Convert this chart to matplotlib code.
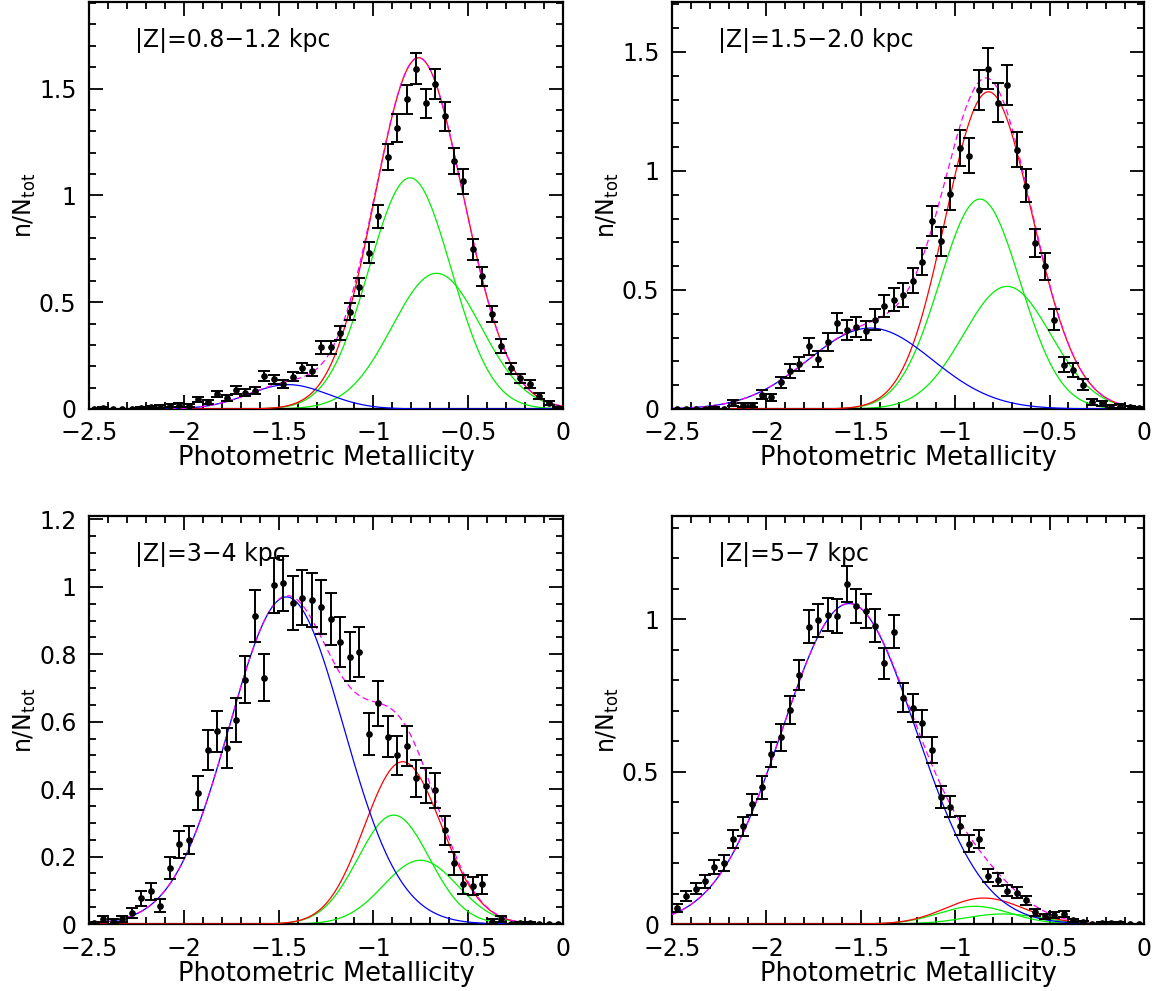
import numpy as np
import matplotlib
matplotlib.use("Agg")
import matplotlib.pyplot as plt
from matplotlib.ticker import MultipleLocator, FuncFormatter

plt.rcParams['font.family'] = ['DejaVu Sans']
plt.rcParams['mathtext.fontset'] = 'dejavusans'

# bin centres of the metallicity histogram
feh = np.round(np.arange(-2.475, 0.0, 0.05), 3)

# panel 1 : |Z| = 0.8-1.2 kpc
y1 = [0.0, 0.005, 0.0, 0.0, 0.0, 0.005, 0.008, 0.011, 0.014, 0.019,
      0.016, 0.045, 0.031, 0.069, 0.052, 0.089, 0.077, 0.086, 0.156, 0.14,
      0.117, 0.151, 0.192, 0.18, 0.289, 0.289, 0.356, 0.456, 0.57, 0.731,
      0.901, 1.179, 1.315, 1.449, 1.593, 1.432, 1.522, 1.369, 1.16, 1.065,
      0.748, 0.621, 0.445, 0.295, 0.19, 0.144, 0.117, 0.061, 0.027, 0.005]
e1 = [0.0, 0.004, 0.0, 0.0, 0.0, 0.004, 0.005, 0.006, 0.007, 0.008,
      0.007, 0.012, 0.010, 0.015, 0.013, 0.017, 0.016, 0.017, 0.023, 0.021,
      0.020, 0.022, 0.025, 0.024, 0.031, 0.031, 0.034, 0.038, 0.043, 0.049,
      0.054, 0.062, 0.065, 0.069, 0.072, 0.068, 0.070, 0.067, 0.061, 0.059,
      0.049, 0.045, 0.038, 0.031, 0.025, 0.022, 0.020, 0.014, 0.009, 0.004]

# panel 2 : |Z| = 1.5-2.0 kpc
y2 = [0.0, 0.0, 0.0, 0.0, 0.004, 0.0, 0.025, 0.017, 0.017, 0.06,
      0.049, 0.112, 0.158, 0.189, 0.263, 0.21, 0.28, 0.361, 0.332, 0.343,
      0.329, 0.375, 0.434, 0.459, 0.48, 0.539, 0.619, 0.789, 0.704, 0.903,
      1.097, 1.064, 1.34, 1.429, 1.287, 1.361, 1.09, 0.938, 0.697, 0.599,
      0.375, 0.186, 0.164, 0.102, 0.031, 0.024, 0.01, 0.014, 0.007, 0.004]
e2 = [0.0, 0.0, 0.0, 0.0, 0.005, 0.0, 0.011, 0.009, 0.009, 0.018,
      0.016, 0.024, 0.029, 0.031, 0.037, 0.033, 0.038, 0.043, 0.041, 0.042,
      0.041, 0.044, 0.047, 0.049, 0.050, 0.053, 0.057, 0.064, 0.060, 0.068,
      0.075, 0.074, 0.083, 0.086, 0.082, 0.084, 0.075, 0.070, 0.060, 0.056,
      0.044, 0.031, 0.029, 0.023, 0.013, 0.011, 0.007, 0.009, 0.006, 0.005]

# panel 3 : |Z| = 3-4 kpc
y3 = [0.003, 0.015, 0.007, 0.015, 0.033, 0.076, 0.097, 0.054, 0.166, 0.236,
      0.25, 0.389, 0.515, 0.571, 0.521, 0.605, 0.724, 0.913, 0.731, 1.004,
      1.01, 0.953, 0.968, 0.96, 0.941, 0.905, 0.836, 0.793, 0.807, 0.564,
      0.654, 0.556, 0.5, 0.528, 0.432, 0.41, 0.396, 0.278, 0.18, 0.118,
      0.112, 0.118, 0.007, 0.015, 0.0, 0.003, 0.003, 0.0, 0.0, 0.0]
e3 = [0.004, 0.010, 0.007, 0.010, 0.015, 0.023, 0.026, 0.019, 0.033, 0.040,
      0.041, 0.051, 0.059, 0.062, 0.059, 0.064, 0.070, 0.078, 0.070, 0.082,
      0.082, 0.080, 0.081, 0.080, 0.080, 0.078, 0.075, 0.073, 0.074, 0.062,
      0.066, 0.061, 0.058, 0.060, 0.054, 0.052, 0.052, 0.043, 0.035, 0.028,
      0.027, 0.028, 0.007, 0.010, 0.0, 0.004, 0.004, 0.0, 0.0, 0.0]

# panel 4 : |Z| = 5-7 kpc
y4 = [0.052, 0.091, 0.116, 0.14, 0.187, 0.2, 0.278, 0.32, 0.393, 0.448,
      0.557, 0.612, 0.701, 0.817, 0.975, 0.996, 1.015, 1.01, 1.115, 1.044,
      1.026, 0.978, 0.855, 0.959, 0.742, 0.707, 0.658, 0.571, 0.416, 0.385,
      0.322, 0.263, 0.278, 0.159, 0.145, 0.109, 0.102, 0.078, 0.038, 0.025,
      0.029, 0.033, 0.012, 0.005, 0.0, 0.003, 0.003, 0.003, 0.0, 0.0]
e4 = [0.013, 0.017, 0.019, 0.021, 0.024, 0.025, 0.029, 0.031, 0.034, 0.037,
      0.041, 0.043, 0.046, 0.050, 0.054, 0.055, 0.055, 0.055, 0.058, 0.056,
      0.056, 0.054, 0.051, 0.054, 0.047, 0.046, 0.045, 0.042, 0.035, 0.034,
      0.031, 0.028, 0.029, 0.022, 0.021, 0.018, 0.018, 0.015, 0.011, 0.009,
      0.009, 0.010, 0.006, 0.004, 0.0, 0.003, 0.003, 0.003, 0.0, 0.0]

# gaussian fit components (amplitude, mean, sigma)
halo = [(0.114, -1.45, 0.21), (0.34, -1.45, 0.33),
        (0.97, -1.459, 0.30), (1.051, -1.562, 0.354)]
thick1 = [(1.082, -0.807, 0.217), (0.882, -0.869, 0.213),
          (0.323, -0.893, 0.188), (0.058, -0.896, 0.19)]
thick2 = [(0.635, -0.667, 0.235), (0.515, -0.725, 0.232),
          (0.189, -0.752, 0.195), (0.033, -0.746, 0.2)]

labels = ['|Z|=0.8\u22121.2 kpc', '|Z|=1.5\u22122.0 kpc',
          '|Z|=3\u22124 kpc', '|Z|=5\u22127 kpc']
ymax = [1.905, 1.71, 1.21, 1.338]
ymajor = [0.5, 0.5, 0.2, 0.5]
yminor = [0.1, 0.1, 0.05, 0.1]

rects = [[0.0769, 0.5873, 0.4093, 0.4107], [0.5803, 0.5873, 0.4076, 0.4107],
         [0.0769, 0.0676, 0.4093, 0.4117], [0.5803, 0.0676, 0.4076, 0.4117]]


def gauss(x, p):
    a, mu, sig = p
    return a * np.exp(-0.5 * ((x - mu) / sig) ** 2)


def fmt(v, pos):
    s = '%g' % round(v, 3)
    return s.replace('-', '\u2212')


fig = plt.figure(figsize=(11.58, 9.91), dpi=100)
xx = np.linspace(-2.5, 0.0, 600)
data = [(y1, e1), (y2, e2), (y3, e3), (y4, e4)]

for i in range(4):
    ax = fig.add_axes(rects[i])
    y, e = data[i]
    g1 = gauss(xx, thick1[i])
    g2 = gauss(xx, thick2[i])
    h = gauss(xx, halo[i])
    ax.plot(xx, g1, color='#00ee00', lw=0.9, zorder=2)
    ax.plot(xx, g2, color='#00ee00', lw=0.9, zorder=2)
    ax.plot(xx, g1 + g2, color='#ff0000', lw=0.9, zorder=3)
    ax.plot(xx, h, color='#0000ff', lw=0.9, zorder=3)
    ax.plot(xx, h + g1 + g2, color='#ff00ff', lw=0.9, ls=(0, (5, 3)), zorder=4)
    ax.errorbar(feh, y, yerr=e, fmt='o', color='black', ms=3.8, elinewidth=1.4,
                capsize=4, capthick=1.4, zorder=5)

    ax.set_xlim(-2.5, 0.0)
    ax.set_ylim(0, ymax[i])
    ax.xaxis.set_major_locator(MultipleLocator(0.5))
    ax.xaxis.set_minor_locator(MultipleLocator(0.1))
    ax.yaxis.set_major_locator(MultipleLocator(ymajor[i]))
    ax.yaxis.set_minor_locator(MultipleLocator(yminor[i]))
    ax.xaxis.set_major_formatter(FuncFormatter(fmt))
    ax.yaxis.set_major_formatter(FuncFormatter(fmt))
    ax.tick_params(which='both', direction='in', top=True, right=True,
                   width=1.3, labelsize=17)
    ax.tick_params(which='major', length=10, pad=9)
    ax.tick_params(which='minor', length=5)
    for sp in ax.spines.values():
        sp.set_linewidth(1.6)

    ax.set_xlabel('Photometric Metallicity', fontsize=18.5, labelpad=0)
    ax.set_ylabel(r'n/N$_{\rm tot}$', fontsize=17)
    ax.yaxis.set_label_coords(-0.108, 0.5)
    ax.text(0.097, 0.905, labels[i], transform=ax.transAxes, fontsize=17,
            va='center', ha='left')

fig.savefig('out.png', dpi=100)
